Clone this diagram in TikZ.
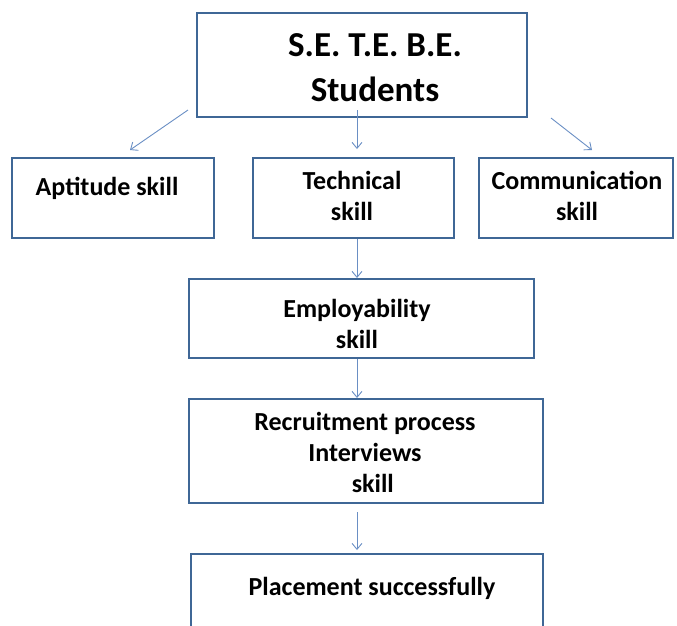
\documentclass[tikz,border=0pt]{standalone}
\usepackage{fontspec}
\setmainfont{Carlito}
\usetikzlibrary{arrows.meta}
\definecolor{boxline}{HTML}{3F6796}
\definecolor{arrowc}{HTML}{6A8FC4}
\begin{document}
\begin{tikzpicture}[x=1pt,y=-1pt,
  box/.style={draw=boxline,line width=1.6pt,inner sep=0pt,anchor=north west},
  txt/.style={font=\bfseries\fontsize{26}{31}\selectfont,align=center,inner sep=0pt},
  conn/.style={draw=arrowc,line width=0.9pt,-{Straight Barb[length=6pt,width=10pt,line width=0.9pt]}}]
\useasboundingbox (0,0) rectangle (677,625);
% boxes
\node[box,minimum width=330pt,minimum height=104pt] (top) at (196,12) {};
\node[box,minimum width=202pt,minimum height=80pt] (apt) at (11,157) {};
\node[box,minimum width=201pt,minimum height=80pt] (tech) at (252,157) {};
\node[box,minimum width=194pt,minimum height=80pt] (comm) at (478,157) {};
\node[box,minimum width=345pt,minimum height=79pt] (emp) at (188,278) {};
\node[box,minimum width=354pt,minimum height=104pt] (rec) at (188,398) {};
\node[box,minimum width=352pt,minimum height=90pt] (plc) at (190,553) {};
% texts
\node[txt,font=\bfseries\fontsize{35}{45}\selectfont] (toptxt) at (375,68) {S.E. T.E. B.E.\\ Students};
\node[txt] (apttxt) at (107,188) {Aptitude skill};
\node[txt] (techtxt) at (352,196) {Technical\\ skill};
\node[txt] (commtxt) at (577,196) {Communication\\ skill};
\node[txt] (emptxt) at (357,324) {Employability\\ skill};
\node[txt] (rectxt) at (365,452) {Recruitment process\\ Interviews\\ \hspace*{0.6em}skill};
\node[txt] (plctxt) at (372,588) {Placement successfully};
% arrow end points
\coordinate (a1s) at (188,110);
\coordinate (a1e) at (130,150);
\coordinate (a2s) at (357,110);
\coordinate (a2e) at (357,149);
\coordinate (a3s) at (551,118);
\coordinate (a3e) at (592,150);
\coordinate (a6s) at (357,512);
\coordinate (a6e) at (357,550);
% connectors
\draw[conn] (a1s) -- (a1e);
\draw[conn] (a2s) -- (a2e);
\draw[conn] (a3s) -- (a3e);
\draw[conn] (tech.south west -| a2s) -- (emp.north west -| a2s);
\draw[conn] (emp.south west -| a2s) -- (rec.north west -| a2s);
\draw[conn] (a6s) -- (a6e);
\end{tikzpicture}
\end{document}
